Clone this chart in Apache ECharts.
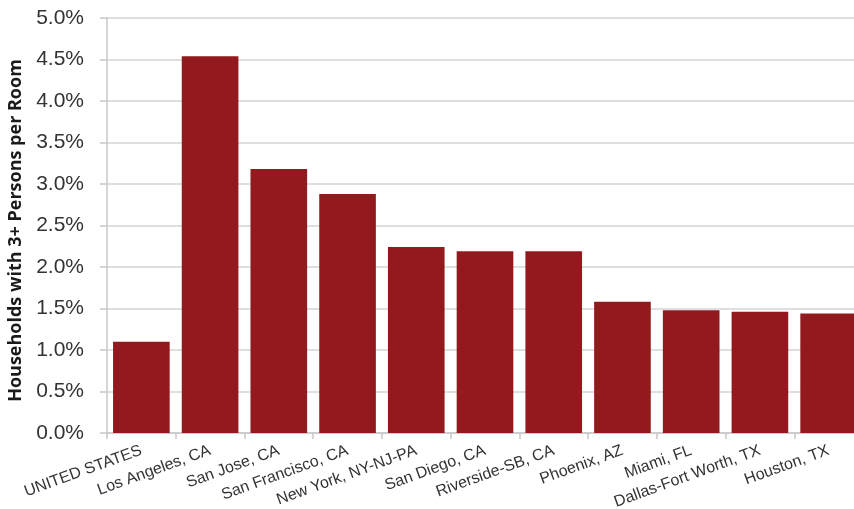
<!DOCTYPE html>
<html>
<head>
<meta charset="utf-8">
<script src="https://cdn.jsdelivr.net/npm/echarts@6/dist/echarts.min.js"></script>
<style>html,body{margin:0;padding:0;background:#fff;}#c{width:854px;height:509px;}</style>
</head>
<body>
<div id="c"></div>
<script>
const categories = ["UNITED STATES", "Los Angeles, CA", "San Jose, CA", "San Francisco, CA", "New York, NY-NJ-PA", "San Diego, CA", "Riverside-SB, CA", "Phoenix, AZ", "Miami, FL", "Dallas-Fort Worth, TX", "Houston, TX"];
const values = [1.10, 4.54, 3.18, 2.88, 2.24, 2.19, 2.19, 1.58, 1.48, 1.46, 1.44];
const yAxisName = "Households with 3+ Persons per Room";

const chart = echarts.init(document.getElementById('c'));
chart.setOption({
  animation: false,
  grid: { left: 107, top: 18, width: 756, height: 415, containLabel: false, outerBoundsMode: 'none' },
  xAxis: {
    type: 'category',
    data: categories,
    boundaryGap: true,
    axisLine: { lineStyle: { color: '#c8c8c8', width: 1.5 } },
    axisTick: { show: true, length: 6, lineStyle: { color: '#c8c8c8', width: 1.5 } },
    axisLabel: { rotate: 20, interval: 0, color: '#333', fontSize: 16, fontFamily: 'Liberation Sans, Arial, sans-serif', margin: 17 }
  },
  yAxis: {
    type: 'value',
    min: 0, max: 5, interval: 0.5,
    name: yAxisName,
    nameLocation: 'middle',
    nameGap: 77,
    nameTextStyle: { fontSize: 18, fontWeight: 'bold', color: '#1a1a1a', fontFamily: 'Open Sans, Arial, sans-serif', padding: [0, 10, 0, 0] },
    axisLine: { show: true, lineStyle: { color: '#c8c8c8', width: 1.5 } },
    axisTick: { show: true, length: 7, lineStyle: { color: '#c8c8c8', width: 1.5 } },
    splitLine: { lineStyle: { color: '#d4d4d4', width: 1.5 } },
    axisLabel: { formatter: v => v.toFixed(1) + '%', color: '#333', fontSize: 21, fontFamily: 'Liberation Sans, Arial, sans-serif', margin: 23 }
  },
  series: [{
    type: 'bar',
    data: values,
    barCategoryGap: '17.6%',
    itemStyle: { color: '#921a1e' }
  }]
});
</script>
</body>
</html>
